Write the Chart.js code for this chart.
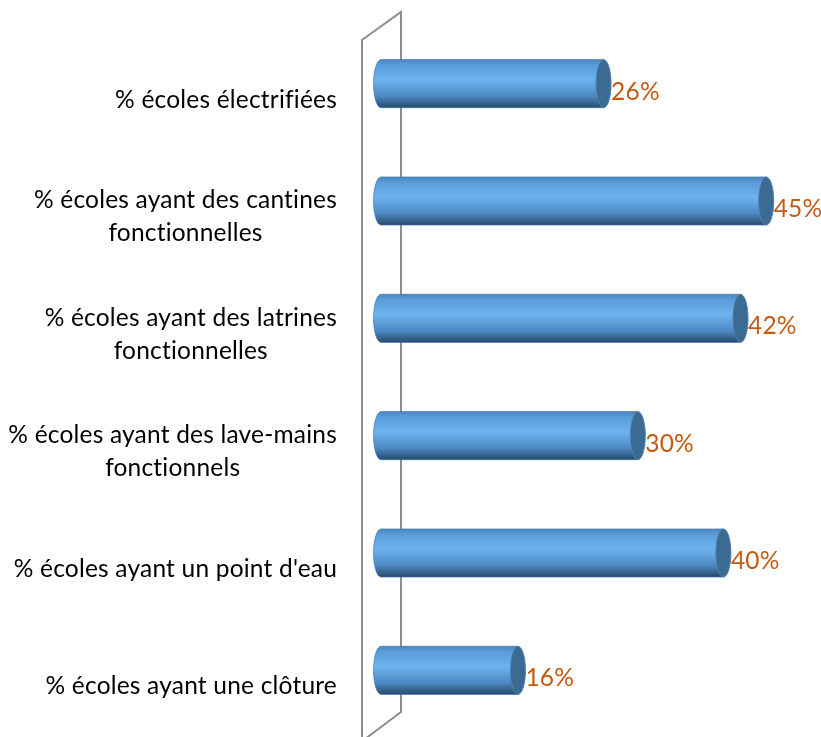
<!DOCTYPE html>
<html lang="fr">
<head>
<meta charset="utf-8">
<title>Équipements des écoles</title>
<script src="https://cdn.jsdelivr.net/npm/chart.js@4.4.1/dist/chart.umd.min.js"></script>
<style>
  html, body { margin: 0; padding: 0; background: #fff; }
  #wrap { position: relative; width: 821px; height: 737px; }
</style>
</head>
<body>
<div id="wrap"><canvas id="chart"></canvas></div>
<script>
// categories (multi-line labels) and percentages
const categories = [
  ['% écoles électrifiées'],
  ['% écoles ayant des cantines', 'fonctionnelles'],
  ['% écoles ayant des latrines', 'fonctionnelles'],
  ['% écoles ayant des lave-mains', 'fonctionnels'],
  ["% écoles ayant un point d'eau"],
  ['% écoles ayant une clôture']
];
const values = [26, 45, 42, 30, 40, 16];
const axisMax = 50;

const LABEL_FONT = '24.5px Lato, "Open Sans", sans-serif';
const VALUE_COLOR = '#C55A11';

// 3D "wall" behind the bars, drawn as a slanted frame
const wallPlugin = {
  id: 'wall',
  beforeDatasetsDraw(chart) {
    const { ctx, chartArea } = chart;
    const l = chartArea.left, t = chartArea.top, b = chartArea.bottom;
    ctx.save();
    ctx.strokeStyle = '#8e8e8e';
    ctx.lineWidth = 2;
    ctx.beginPath();
    ctx.moveTo(l - 19, b + 12);
    ctx.lineTo(l - 19, t + 15);
    ctx.lineTo(l + 20, t - 13);
    ctx.lineTo(l + 20, b - 17);
    ctx.lineTo(l - 16, b + 10);
    ctx.stroke();
    ctx.restore();
  }
};

// bars drawn as horizontal cylinders, plus value labels
const cylinderPlugin = {
  id: 'cylinders',
  afterDatasetsDraw(chart) {
    const { ctx } = chart;
    const meta = chart.getDatasetMeta(0);
    ctx.save();
    meta.data.forEach((bar, i) => {
      const { x, y, base, height } = bar.getProps(['x', 'y', 'base', 'height'], true);
      const top = y - height / 2, bottom = y + height / 2, ry = height / 2;
      const rx = 7.5;

      const grad = ctx.createLinearGradient(0, top, 0, bottom);
      grad.addColorStop(0, '#4b87c3');
      grad.addColorStop(0.12, '#5b9ddb');
      grad.addColorStop(0.42, '#6cb3f0');
      grad.addColorStop(0.75, '#4e8ac4');
      grad.addColorStop(0.92, '#335f88');
      grad.addColorStop(1, '#27496a');

      ctx.beginPath();
      ctx.moveTo(base, top);
      ctx.lineTo(x, top);
      ctx.lineTo(x, bottom);
      ctx.lineTo(base, bottom);
      ctx.ellipse(base, y, rx, ry, 0, Math.PI / 2, Math.PI * 1.5);
      ctx.closePath();
      ctx.fillStyle = grad;
      ctx.fill();
      ctx.strokeStyle = 'rgba(60,110,160,0.6)';
      ctx.lineWidth = 1;
      ctx.stroke();

      // end cap
      ctx.beginPath();
      ctx.ellipse(x, y, rx, ry, 0, 0, Math.PI * 2);
      ctx.fillStyle = '#3b6a92';
      ctx.fill();
      ctx.strokeStyle = '#4f82ad';
      ctx.stroke();

      ctx.font = LABEL_FONT;
      ctx.letterSpacing = '0.2px';
      ctx.fillStyle = VALUE_COLOR;
      ctx.textAlign = 'left';
      ctx.textBaseline = 'middle';
      ctx.fillText(values[i] + '%', x + rx, y + 8);
    });
    ctx.restore();
  }
};

// category labels: lines centred, block right-aligned next to the wall
const categoryLabelPlugin = {
  id: 'categoryLabels',
  afterDraw(chart) {
    const { ctx, chartArea } = chart;
    const yScale = chart.scales.y;
    const right = chartArea.left - 44;
    const lineH = 33;
    ctx.save();
    ctx.font = LABEL_FONT;
    ctx.letterSpacing = '0.2px'; // also keeps "ti" from turning into a ligature
    ctx.fillStyle = '#000';
    ctx.textAlign = 'center';
    ctx.textBaseline = 'middle';
    categories.forEach((lines, i) => {
      const cy = yScale.getPixelForTick(i) + 16;
      const w = Math.max(...lines.map(s => ctx.measureText(s).width));
      const cx = right - w / 2;
      const y0 = cy - (lines.length - 1) * lineH / 2;
      lines.forEach((s, k) => ctx.fillText(s, cx, y0 + k * lineH));
    });
    ctx.restore();
  }
};

new Chart(document.getElementById('chart'), {
  type: 'bar',
  data: {
    labels: categories,
    datasets: [{
      data: values,
      backgroundColor: 'rgba(0,0,0,0)',
      borderWidth: 0,
      barPercentage: 0.41,
      categoryPercentage: 1
    }]
  },
  options: {
    indexAxis: 'y',
    responsive: true,
    maintainAspectRatio: false,
    animation: false,
    layout: { padding: { left: 381, right: 12, top: 25, bottom: 8 } },
    scales: {
      x: { display: false, min: 0, max: axisMax },
      y: { display: false }
    },
    plugins: {
      legend: { display: false },
      tooltip: { enabled: false }
    }
  },
  plugins: [wallPlugin, cylinderPlugin, categoryLabelPlugin]
});
</script>
</body>
</html>
